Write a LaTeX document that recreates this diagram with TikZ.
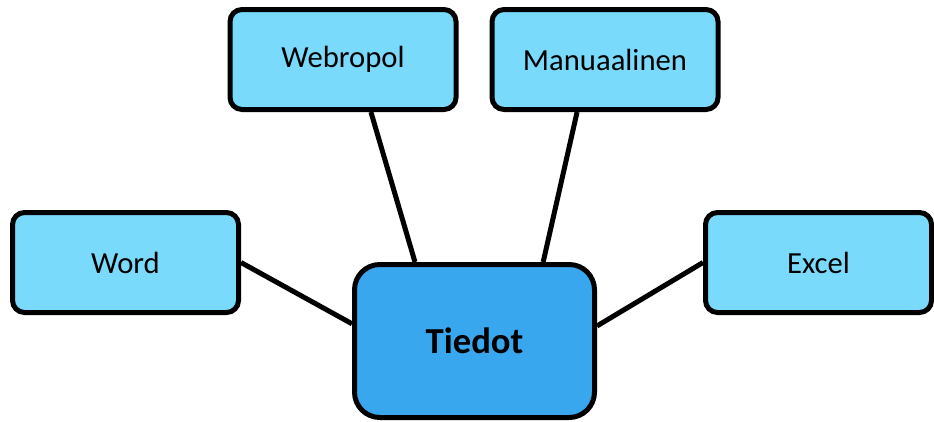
\documentclass[tikz,border=0pt]{standalone}
\usepackage{fontspec}
\setmainfont{Carlito}
\usepackage{tikz}
\usetikzlibrary{shapes}
\definecolor{toolblue}{HTML}{7ADAFB}
\definecolor{rootblue}{HTML}{38A7EE}

\begin{document}
\begin{tikzpicture}[x=0.75pt,y=-0.75pt]
			\tikzset{tool node/.style={draw,line width=3.75pt,rounded corners=9pt,fill=toolblue,
				minimum width=169.5pt,minimum height=75pt,inner sep=0pt,font=\fontsize{23}{27}\selectfont}}
			\tikzset{root node/.style={tool node,rounded corners=19pt,fill=rootblue,
				minimum width=180pt,minimum height=114.75pt,font=\fontsize{27.5}{32}\selectfont\bfseries}}
			\tikzset{link/.style={line width=3.75pt}}
			\useasboundingbox (0,0) rectangle (934,421);
			\node[root node] (tiedot) at (474.5,341) {Tiedot};
			\node[tool node] (webropol) at (343,59.5) {Webropol};
			\node[tool node] (manuaalinen) at (605,59.5) {Manuaalinen};
			\node[tool node] (word) at (125.5,262.5) {Word};
			\node[tool node] (excel) at (818.5,262.5) {Excel};
			%\draw[link] (tiedot) -- (webropol);
			\draw[link] (webropol.-62.8) -- (tiedot.127.3);
			\draw[link] (manuaalinen.-118.1) -- (tiedot.49.5);
			\draw[link] (word.east) -- (tiedot.172.6);
			\draw[link] (excel.west) -- (tiedot.7.4);
			\end{tikzpicture}
\end{document}
